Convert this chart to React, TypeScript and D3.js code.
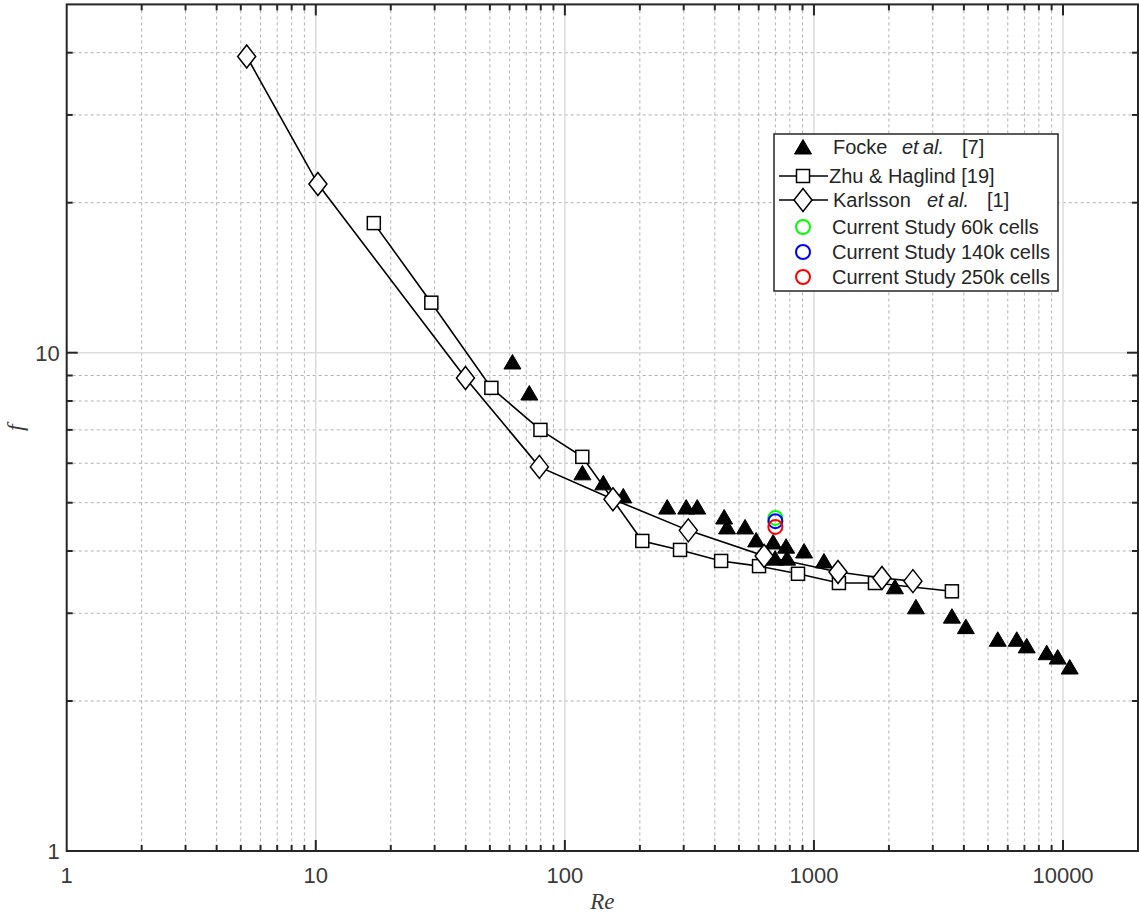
import React from "react";
import * as d3 from "d3";

// Friction factor f versus Reynolds number Re
const fockeRe = [61.6, 72.0, 117.6, 142.7, 171.6, 257.6, 307, 340, 436, 448, 529, 586, 686, 773, 913, 698, 780, 1097, 2115, 2567, 3580, 4074, 5470, 6520, 7150, 8600, 9520, 10640];
const fockeF = [9.58, 8.30, 5.74, 5.48, 5.16, 4.90, 4.90, 4.90, 4.68, 4.47, 4.47, 4.21, 4.17, 4.09, 4.00, 3.87, 3.87, 3.82, 3.39, 3.09, 2.96, 2.82, 2.66, 2.66, 2.58, 2.50, 2.45, 2.34];

const zhuRe = [17.1, 29.1, 50.7, 79.8, 117.5, 204.6, 290, 424, 602, 863, 1260, 1758, 3580];
const zhuF = [18.2, 12.6, 8.5, 7.0, 6.18, 4.19, 4.02, 3.82, 3.73, 3.60, 3.45, 3.45, 3.32];

const karlssonRe = [5.28, 10.2, 39.9, 79.0, 156, 313, 631, 1249, 1875, 2497];
const karlssonF = [39.3, 21.8, 8.90, 5.90, 5.08, 4.40, 3.91, 3.63, 3.53, 3.48];

const studyLabels = ["Current Study 60k cells", "Current Study 140k cells", "Current Study 250k cells"];
const studyColors = ["#00ff00", "#0000ff", "#ff0000"];
const studyRe = [700, 700, 700];
const studyF = [4.66, 4.59, 4.47];

const xTickLabels = [1, 10, 100, 1000, 10000];
const yTickLabels = [1, 10];

const W = 1139;
const H = 913;
const left = 66.7;
const right = 1138;
const top = 4.4;
const bottom = 851;

const axisColor = "#262626";
const labelColor = "#3a3a3a";
const sans = "'Liberation Sans', Arial, sans-serif";
const serif = "'Liberation Serif', 'Times New Roman', serif";

const triPath = (cx: number, cy: number) =>
  `M${cx},${cy - 7.5}L${cx + 8.5},${cy + 7}L${cx - 8.5},${cy + 7}Z`;
const diamondPath = (cx: number, cy: number) =>
  `M${cx},${cy - 11.5}L${cx + 9},${cy}L${cx},${cy + 11.5}L${cx - 9},${cy}Z`;

export default function App() {
  const x = d3.scaleLog().domain([1, 20000]).range([left, right]);
  const y = d3.scaleLog().domain([1, 50]).range([bottom, top]);

  const xMinor: number[] = [];
  for (let k = 0; k <= 4; k++) {
    for (let m = 2; m <= 9; m++) {
      const v = m * Math.pow(10, k);
      if (v < 20000) xMinor.push(v);
    }
  }
  const xMajor = [10, 100, 1000, 10000];
  const yMinor = [2, 3, 4, 5, 6, 7, 8, 9, 20, 30, 40];
  const yMajor = [10];

  const line = d3
    .line<[number, number]>()
    .x((d) => x(d[0]))
    .y((d) => y(d[1]));

  const zhuPts = zhuRe.map((r, i) => [r, zhuF[i]] as [number, number]);
  const karPts = karlssonRe.map((r, i) => [r, karlssonF[i]] as [number, number]);

  const lx0 = 779;
  const lx1 = 828;
  const lmx = 803;
  const ltx = 833;

  return (
    <svg
      width={W}
      height={H}
      style={{ position: "absolute", left: 0, top: 0, background: "#fff" }}
    >
      <rect x={0} y={0} width={W} height={H} fill="#fff" />
      {/* grid */}
      <g>
        {xMinor.map((v) => (
          <line key={"xm" + v} x1={x(v)} x2={x(v)} y1={top} y2={bottom} stroke="#b0b0b0" strokeWidth={1} strokeDasharray="3,3" />
        ))}
        {yMinor.map((v) => (
          <line key={"ym" + v} x1={left} x2={right} y1={y(v)} y2={y(v)} stroke="#b0b0b0" strokeWidth={1} strokeDasharray="3,3" />
        ))}
        {xMajor.map((v) => (
          <line key={"xM" + v} x1={x(v)} x2={x(v)} y1={top} y2={bottom} stroke="#dcdcdc" strokeWidth={1.5} />
        ))}
        {yMajor.map((v) => (
          <line key={"yM" + v} x1={left} x2={right} y1={y(v)} y2={y(v)} stroke="#dcdcdc" strokeWidth={1.5} />
        ))}
      </g>

      {/* Focke et al. */}
      <g>
        {fockeRe.map((r, i) => (
          <path key={"f" + i} d={triPath(x(r), y(fockeF[i]))} fill="#000" stroke="#000" strokeWidth={1} />
        ))}
      </g>

      {/* Zhu & Haglind */}
      <path d={line(zhuPts) || ""} fill="none" stroke="#000" strokeWidth={1.6} />
      {zhuPts.map((p, i) => (
        <rect key={"z" + i} x={x(p[0]) - 6.5} y={y(p[1]) - 6.5} width={13} height={13} fill="#fff" stroke="#000" strokeWidth={1.5} />
      ))}

      {/* Karlsson et al. */}
      <path d={line(karPts) || ""} fill="none" stroke="#000" strokeWidth={1.6} />
      {karPts.map((p, i) => (
        <path key={"k" + i} d={diamondPath(x(p[0]), y(p[1]))} fill="#fff" stroke="#000" strokeWidth={1.5} />
      ))}

      {/* current study */}
      {studyRe.map((r, i) => (
        <circle key={"s" + i} cx={x(r)} cy={y(studyF[i])} r={7} fill="none" stroke={studyColors[i]} strokeWidth={2} />
      ))}

      {/* axes box and ticks */}
      <g stroke={axisColor} strokeWidth={2}>
        {xMinor.map((v) => (
          <g key={"xt" + v}>
            <line x1={x(v)} x2={x(v)} y1={bottom} y2={bottom - 6} />
            <line x1={x(v)} x2={x(v)} y1={top} y2={top + 6} />
          </g>
        ))}
        {xMajor.map((v) => (
          <g key={"xT" + v}>
            <line x1={x(v)} x2={x(v)} y1={bottom} y2={bottom - 11} />
            <line x1={x(v)} x2={x(v)} y1={top} y2={top + 11} />
          </g>
        ))}
        {yMinor.map((v) => (
          <g key={"yt" + v}>
            <line x1={left} x2={left + 6} y1={y(v)} y2={y(v)} />
            <line x1={right} x2={right - 6} y1={y(v)} y2={y(v)} />
          </g>
        ))}
        {yMajor.map((v) => (
          <g key={"yT" + v}>
            <line x1={left} x2={left + 11} y1={y(v)} y2={y(v)} />
            <line x1={right} x2={right - 11} y1={y(v)} y2={y(v)} />
          </g>
        ))}
        <rect x={left} y={top} width={right - left} height={bottom - top} fill="none" />
      </g>

      {/* tick labels */}
      <g fontFamily={sans} fontSize={22} fill={labelColor}>
        {xTickLabels.map((v) => (
          <text key={"xl" + v} x={x(v)} y={883} textAnchor="middle">
            {v}
          </text>
        ))}
        {yTickLabels.map((v) => (
          <text key={"yl" + v} x={left - 7} y={y(v) + 8} textAnchor="end">
            {v}
          </text>
        ))}
      </g>

      {/* axis titles */}
      <text x={(left + right) / 2} y={909} textAnchor="middle" fontFamily={serif} fontStyle="italic" fontSize={23} fill={labelColor}>
        Re
      </text>
      <text
        transform={`translate(23,${(top + bottom) / 2}) rotate(-90)`}
        textAnchor="middle"
        fontFamily={serif}
        fontStyle="italic"
        fontSize={24}
        fill={labelColor}
      >
        f
      </text>

      {/* legend */}
      <g>
        <rect x={774} y={134} width={284} height={157} fill="#fff" stroke={axisColor} strokeWidth={1.5} />
        <path d={triPath(lmx, 147)} fill="#000" stroke="#000" strokeWidth={1} />
        <line x1={lx0} x2={lx1} y1={176} y2={176} stroke="#000" strokeWidth={1.6} />
        <rect x={lmx - 6.5} y={176 - 6.5} width={13} height={13} fill="#fff" stroke="#000" strokeWidth={1.5} />
        <line x1={lx0} x2={lx1} y1={200} y2={200} stroke="#000" strokeWidth={1.6} />
        <path d={diamondPath(lmx, 200)} fill="#fff" stroke="#000" strokeWidth={1.5} />
        {studyLabels.map((s, i) => (
          <circle key={"lc" + i} cx={lmx} cy={227 + i * 25} r={7} fill="none" stroke={studyColors[i]} strokeWidth={2} />
        ))}
        <g fontFamily={sans} fontSize={20} fill={axisColor}>
          <text y={154}>
            <tspan x={ltx}>Focke</tspan>
            <tspan x={902} fontStyle="italic">et</tspan>
            <tspan x={923} fontStyle="italic">al.</tspan>
            <tspan x={962}>[7]</tspan>
          </text>
          <text x={ltx - 4} y={183}>Zhu &amp; Haglind [19]</text>
          <text y={207}>
            <tspan x={ltx}>Karlsson</tspan>
            <tspan x={927} fontStyle="italic">et</tspan>
            <tspan x={948} fontStyle="italic">al.</tspan>
            <tspan x={987}>[1]</tspan>
          </text>
          {studyLabels.map((s, i) => (
            <text key={"lt" + i} x={ltx - 1} y={234 + i * 25}>
              {s}
            </text>
          ))}
        </g>
      </g>
    </svg>
  );
}
